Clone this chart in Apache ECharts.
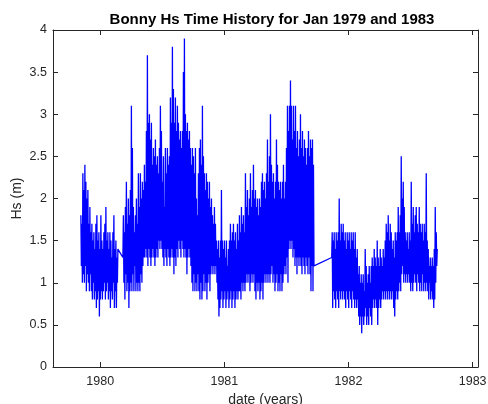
<!DOCTYPE html>
<html>
<head>
<meta charset="utf-8">
<script src="https://cdn.jsdelivr.net/npm/echarts@6/dist/echarts.min.js"></script>
<style>
html,body{margin:0;padding:0;background:#fff;}
#c{width:488px;height:404px;}
</style>
</head>
<body>
<div id="c"></div>
<script>
var segA = [
1.8,1.2, 1.7,1.0, 2.3,1.1, 2.1,1.0, 2.4,1.2, 2.2,0.9, 2.0,1.1, 2.1,1.0, 1.7,0.9, 1.9,1.1,
1.6,0.9, 1.7,0.8, 1.5,1.0, 1.6,0.8, 1.4,0.9, 1.7,0.7, 1.8,0.8, 1.5,0.9, 1.6,0.6, 1.4,0.8,
1.8,0.9, 1.5,0.8, 1.4,0.9, 1.6,1.0, 1.7,0.8, 1.9,0.9, 1.5,1.0, 1.6,0.8, 1.4,0.9, 1.6,0.7,
1.5,0.9, 1.3,0.8, 1.6,1.0, 1.8,0.7, 1.4,0.9, 1.5,0.7, 1.3,1.0, 1.4
];
var segB = [
1.3,
1.8,1.0, 1.6,0.8, 1.9,1.1, 2.2,0.9, 1.7,1.0, 2.0,0.7, 1.8,0.9, 2.1,1.0, 3.1,0.9, 2.6,1.1,
1.9,0.9, 1.6,1.2, 1.8,0.9, 2.0,1.0, 1.7,0.9, 2.3,1.0, 1.9,0.9, 2.3,1.1, 2.0,1.0, 2.2,1.2,
2.1,1.3, 2.4,1.3, 2.2,1.4, 2.8,1.3, 3.7,1.2, 2.9,1.4, 3.0,1.3, 2.7,1.2, 2.9,1.3, 2.4,1.4,
2.6,1.3, 2.5,1.2, 2.7,1.3, 2.4,1.4, 2.5,1.3, 2.3,1.5, 2.6,1.4, 3.1,1.5, 2.8,1.4, 2.2,1.3,
2.5,1.2, 1.9,1.4, 2.6,1.3, 2.3,1.2, 2.6,1.4, 2.4,1.3, 2.5,1.2, 3.2,1.3, 2.9,1.4, 3.8,1.3,
3.3,1.1, 2.9,1.3, 3.2,1.2, 2.8,1.4, 3.1,1.3, 2.9,1.5, 2.7,1.4, 2.8,1.3, 2.6,1.5, 2.8,1.4,
3.5,1.3, 3.9,1.4, 3.0,1.3, 2.8,1.1, 2.9,1.3, 2.7,1.4, 2.8,1.3, 2.6,1.2, 2.4,1.0, 2.6,0.9,
2.5,1.1, 2.3,0.9, 2.6,1.0, 2.0,0.9, 1.8,1.1, 2.3,0.9, 2.6,0.8, 2.7,1.0, 2.4,0.8, 3.1,0.9,
2.5,1.1, 2.3,0.9, 2.1,1.0, 2.3,0.8, 2.2,1.0, 2.0,1.1, 2.2,0.9, 1.9,1.1, 2.0,1.2, 1.8,1.1,
1.7,1.2, 1.9,1.1, 1.7,1.2, 1.5,1.0, 1.4,0.8, 1.5,0.6, 1.3,0.7, 1.5,0.8, 2.1,0.9, 1.5,0.7,
1.4,0.8, 1.5,0.9, 1.3,0.7, 1.5,0.8, 1.2,0.9, 1.4,0.7, 1.5,0.8, 1.7,0.9, 1.5,0.7, 1.6,0.8,
1.7,0.9, 1.5,0.7, 1.6,0.8, 1.4,0.9, 1.7,0.8, 1.5,0.9, 1.8,0.9, 1.6,0.8, 1.9,1.0, 1.7,0.9,
1.8,1.0, 1.6,0.9, 2.3,1.0, 1.9,1.1, 2.1,1.0, 1.8,1.1, 2.0,0.9, 2.3,1.0, 1.9,1.1, 2.1,1.0,
2.4,1.1, 2.0,0.9, 2.1,0.8, 1.9,1.0, 2.0,0.9, 1.8,1.0, 2.0,0.8, 1.9,0.9, 2.2,1.0, 2.3,0.8,
2.1,1.0, 2.2,1.1, 2.0,1.0, 2.3,1.1, 2.7,1.0, 2.2,1.1, 2.5,1.0, 3.0,1.1, 2.4,1.2, 2.2,1.0,
2.3,1.1, 2.0,0.9, 2.2,1.0, 2.7,1.1, 2.4,0.9, 2.2,1.0, 2.1,0.9, 2.2,1.1, 2.0,0.9, 2.2,1.0,
2.4,1.1, 2.0,1.2, 2.2,1.1, 2.6,1.3, 3.1,1.0, 2.8,1.4, 3.1,1.5, 3.4,1.4, 3.1,1.5, 2.7,1.3,
3.1,1.4, 2.8,1.2, 3.1,1.3, 2.6,1.1, 2.8,1.3, 2.5,1.2, 2.7,1.3, 3.0,1.2, 2.6,1.1, 2.8,1.3,
2.5,1.2, 2.7,1.1, 2.6,1.3, 2.4,1.2, 2.6,1.1, 2.8,1.3, 2.5,1.1, 2.7,0.9, 2.6,1.2, 2.7,0.9,
2.4,1.2, 1.2
];
var segC = [
1.3,
1.6,0.7, 1.5,0.9, 1.6,0.8, 1.4,0.7, 1.6,0.9, 1.5,0.8, 1.6,0.7, 2.0,0.9, 1.5,0.8, 1.7,0.9,
1.6,0.8, 1.7,0.9, 1.5,0.8, 1.6,0.7, 1.4,0.9, 1.6,0.8, 1.5,0.7, 1.6,0.9, 1.4,0.8, 1.6,0.7,
1.5,0.9, 1.6,0.8, 1.4,0.7, 1.6,0.8, 1.3,0.7, 1.4,0.8, 1.1,0.6, 1.2,0.5, 1.0,0.6, 1.1,0.4,
1.0,0.6, 1.1,0.5, 0.9,0.6, 1.4,0.7, 1.2,0.5, 1.0,0.6, 1.1,0.5, 1.2,0.7, 1.0,0.6, 1.2,0.5,
1.3,0.7, 1.2,0.8, 1.4,0.7, 1.3,0.8, 1.2,0.7, 1.5,0.5, 1.3,0.7, 1.2,0.8, 1.4,0.7, 1.3,0.8,
1.2,0.9, 1.4,0.8, 1.3,0.9, 1.5,0.8, 1.7,0.9, 1.6,0.8, 1.8,0.9, 1.5,0.8, 1.7,0.9, 1.6,0.8,
1.4,0.9, 1.5,0.7, 1.3,0.6, 1.6,0.8, 1.5,0.9, 1.6,0.8, 1.9,0.9, 1.6,1.0, 1.8,0.9, 2.5,1.1,
2.0,1.2, 2.2,1.0, 1.9,1.1, 1.6,1.0, 1.5,1.1, 1.6,1.0, 1.4,1.1, 1.6,1.0, 1.5,0.9, 2.2,1.0,
1.7,0.9, 1.9,1.0, 1.6,1.1, 1.8,1.0, 1.9,0.9, 1.7,1.1, 1.6,1.0, 1.9,0.9, 1.7,1.0, 1.6,0.9,
1.7,1.1, 1.5,0.9, 1.7,1.0, 1.6,0.9, 2.3,1.0, 1.5,0.9, 1.4,0.8, 1.2,1.0, 1.3,0.8, 1.2,0.9,
1.3,0.8, 1.2,0.7, 1.4,0.8, 1.9,1.0, 1.6,1.2, 1.4
];
// block start dates (decimal years) and sampling step (years)
var segStart = [1979.8445, 1980.1829, 1981.8647];
var stepYears = 0.004029;
var xTicks = [1980, 1981, 1982, 1983];

var pts = [];
[segA, segB, segC].forEach(function (seg, k) {
  for (var i = 0; i < seg.length; i++) pts.push([segStart[k] + i * stepYears, seg[i]]);
});

var axisCol = '#262626';
var font = 'Liberation Sans, Arial, Helvetica, sans-serif';
var chart = echarts.init(document.getElementById('c'), null, {renderer: 'canvas'});
chart.setOption({
  animation: false,
  backgroundColor: '#fff',
  title: {
    text: 'Bonny Hs Time History for Jan 1979 and 1983',
    left: 267, top: 7, textAlign: 'center',
    textStyle: {fontFamily: font, fontSize: 15, fontWeight: 'bold', color: '#000'}
  },
  grid: {left: 53, right: 10, top: 30, bottom: 37, containLabel: false, outerBoundsMode: 'none'},
  xAxis: [{
    type: 'value', min: 1979.62, max: 1983.043, position: 'bottom',
    name: 'date (years)', nameLocation: 'middle', nameGap: 24,
    nameTextStyle: {fontFamily: font, fontSize: 14, color: axisCol},
    axisLine: {show: true, onZero: false, lineStyle: {color: axisCol, width: 1}},
    axisTick: {show: true, inside: true, length: 5, customValues: xTicks, lineStyle: {color: axisCol}},
    axisLabel: {show: true, customValues: xTicks, margin: 8, fontFamily: font, fontSize: 12.5, color: axisCol,
      formatter: function (v) { return String(Math.round(v)); }},
    splitLine: {show: false}
  }, {
    type: 'value', min: 1979.62, max: 1983.043, position: 'top',
    axisLine: {show: true, onZero: false, lineStyle: {color: axisCol, width: 1}},
    axisTick: {show: true, inside: true, length: 5, customValues: xTicks, lineStyle: {color: axisCol}},
    axisLabel: {show: false}, splitLine: {show: false}
  }],
  yAxis: [{
    type: 'value', min: 0, max: 4, interval: 0.5, position: 'left',
    name: 'Hs (m)', nameLocation: 'middle', nameGap: 29, nameMoveOverlap: false,
    nameTextStyle: {fontFamily: font, fontSize: 14, color: axisCol},
    axisLine: {show: true, onZero: false, lineStyle: {color: axisCol, width: 1}},
    axisTick: {show: true, inside: true, length: 5, lineStyle: {color: axisCol}},
    axisLabel: {margin: 6, fontFamily: font, fontSize: 12.5, color: axisCol},
    splitLine: {show: false}
  }, {
    type: 'value', min: 0, max: 4, interval: 0.5, position: 'right',
    axisLine: {show: true, onZero: false, lineStyle: {color: axisCol, width: 1}},
    axisTick: {show: true, inside: true, length: 5, lineStyle: {color: axisCol}},
    axisLabel: {show: false}, splitLine: {show: false}
  }],
  series: [{
    type: 'line', data: pts, xAxisIndex: 0, yAxisIndex: 0,
    showSymbol: false, symbol: 'none', sampling: null,
    lineStyle: {color: '#0000ff', width: 1.3}
  }]
});
</script>
</body>
</html>
